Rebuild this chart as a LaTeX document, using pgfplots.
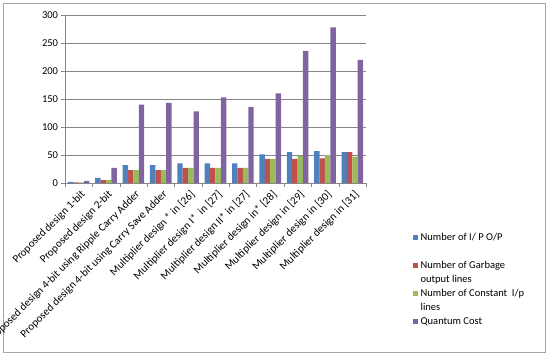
\documentclass[border=0pt]{standalone}
\usepackage{pgfplots}
\pgfplotsset{compat=1.18}
\usepackage{fontspec}
\setmainfont{Carlito}
\definecolor{cblue}{HTML}{4F81BD}
\definecolor{cred}{HTML}{C0504D}
\definecolor{cgreen}{HTML}{9BBB59}
\definecolor{cpurple}{HTML}{8064A2}
\definecolor{axisgray}{HTML}{868686}
\definecolor{framegray}{HTML}{A6A6A6}
\begin{document}
\begin{tikzpicture}
\useasboundingbox (0pt,0pt) rectangle (550pt,357pt);
\draw[framegray] (3pt,5pt) rectangle (545pt,354pt);
\begin{axis}[
  at={(65pt,174pt)}, anchor=south west,
  scale only axis, width=301pt, height=168pt,
  font=\fontsize{10.5}{12}\selectfont,
  ymin=0, ymax=300, ytick={0,50,...,300},
  xmin=-0.5, xmax=10.5,
  xtick={-0.5,0.5,...,10.5},
  x tick label as interval,
  xticklabels={{Proposed design 1-bit},{Proposed design 2-bit},{Proposed design 4-bit using Ripple Carry Adder},{Proposed design 4-bit using Carry Save Adder},{Multiplier design * in [26]},{Multiplier design I*\ \ in [27]},{Multiplier design II* in [27]},{Multiplier design in* [28]},{Multiplier design in [29]},{Multiplier design in [30]},{Multiplier design in [31]}},
  x tick label style={rotate=45, anchor=north east, inner sep=1pt, yshift=-2pt, font=\fontsize{11}{13}\selectfont},
  y tick label style={font=\fontsize{10.5}{12}\selectfont},
  /pgf/number format/assume math mode=true,
  axis x line*=bottom, axis y line*=left,
  axis line style={draw=axisgray, -},
  tick style={draw=axisgray},
  tick align=outside, major tick length=3.5pt,
  ymajorgrids, grid style={axisgray},
  ybar=0pt, bar width=5.4pt,
  legend style={at={(1.155,-0.30)}, anchor=north west, draw=none, fill=none,
    inner sep=0pt, row sep=5pt, font=\fontsize{10.5}{14}\selectfont,
    cells={anchor=base west}, nodes={inner xsep=2.5pt, inner ysep=0pt, text height=7pt, text depth=16pt}},
  legend image code/.code={\path[#1, draw=none] (0pt,0.5pt) rectangle (5.3pt,5.8pt);},
]
\addplot[fill=cblue, draw=none] coordinates {(0,2) (1,9) (2,32) (3,32) (4,35) (5,35) (6,35) (7,51) (8,55) (9,57) (10,55)};
\addplot[fill=cred, draw=none] coordinates {(0,1) (1,5) (2,23) (3,23) (4,27) (5,27) (6,27) (7,43) (8,43) (9,44) (10,55)};
\addplot[fill=cgreen, draw=none] coordinates {(0,1) (1,5) (2,23) (3,23) (4,27) (5,27) (6,27) (7,43) (8,48) (9,50) (10,47)};
\addplot[fill=cpurple, draw=none] coordinates {(0,4) (1,27) (2,140) (3,143) (4,128) (5,153) (6,136) (7,160) (8,236) (9,278) (10,220)};
\addlegendentry{\parbox[t]{130pt}{Number of I/ P O/P}}
\addlegendentry{\parbox[t]{130pt}{Number of Garbage\\output lines}}
\addlegendentry{\parbox[t]{130pt}{Number of Constant\ \ I/p\\lines}}
\addlegendentry{\parbox[t]{130pt}{Quantum Cost}}
\end{axis}
\end{tikzpicture}
\end{document}
